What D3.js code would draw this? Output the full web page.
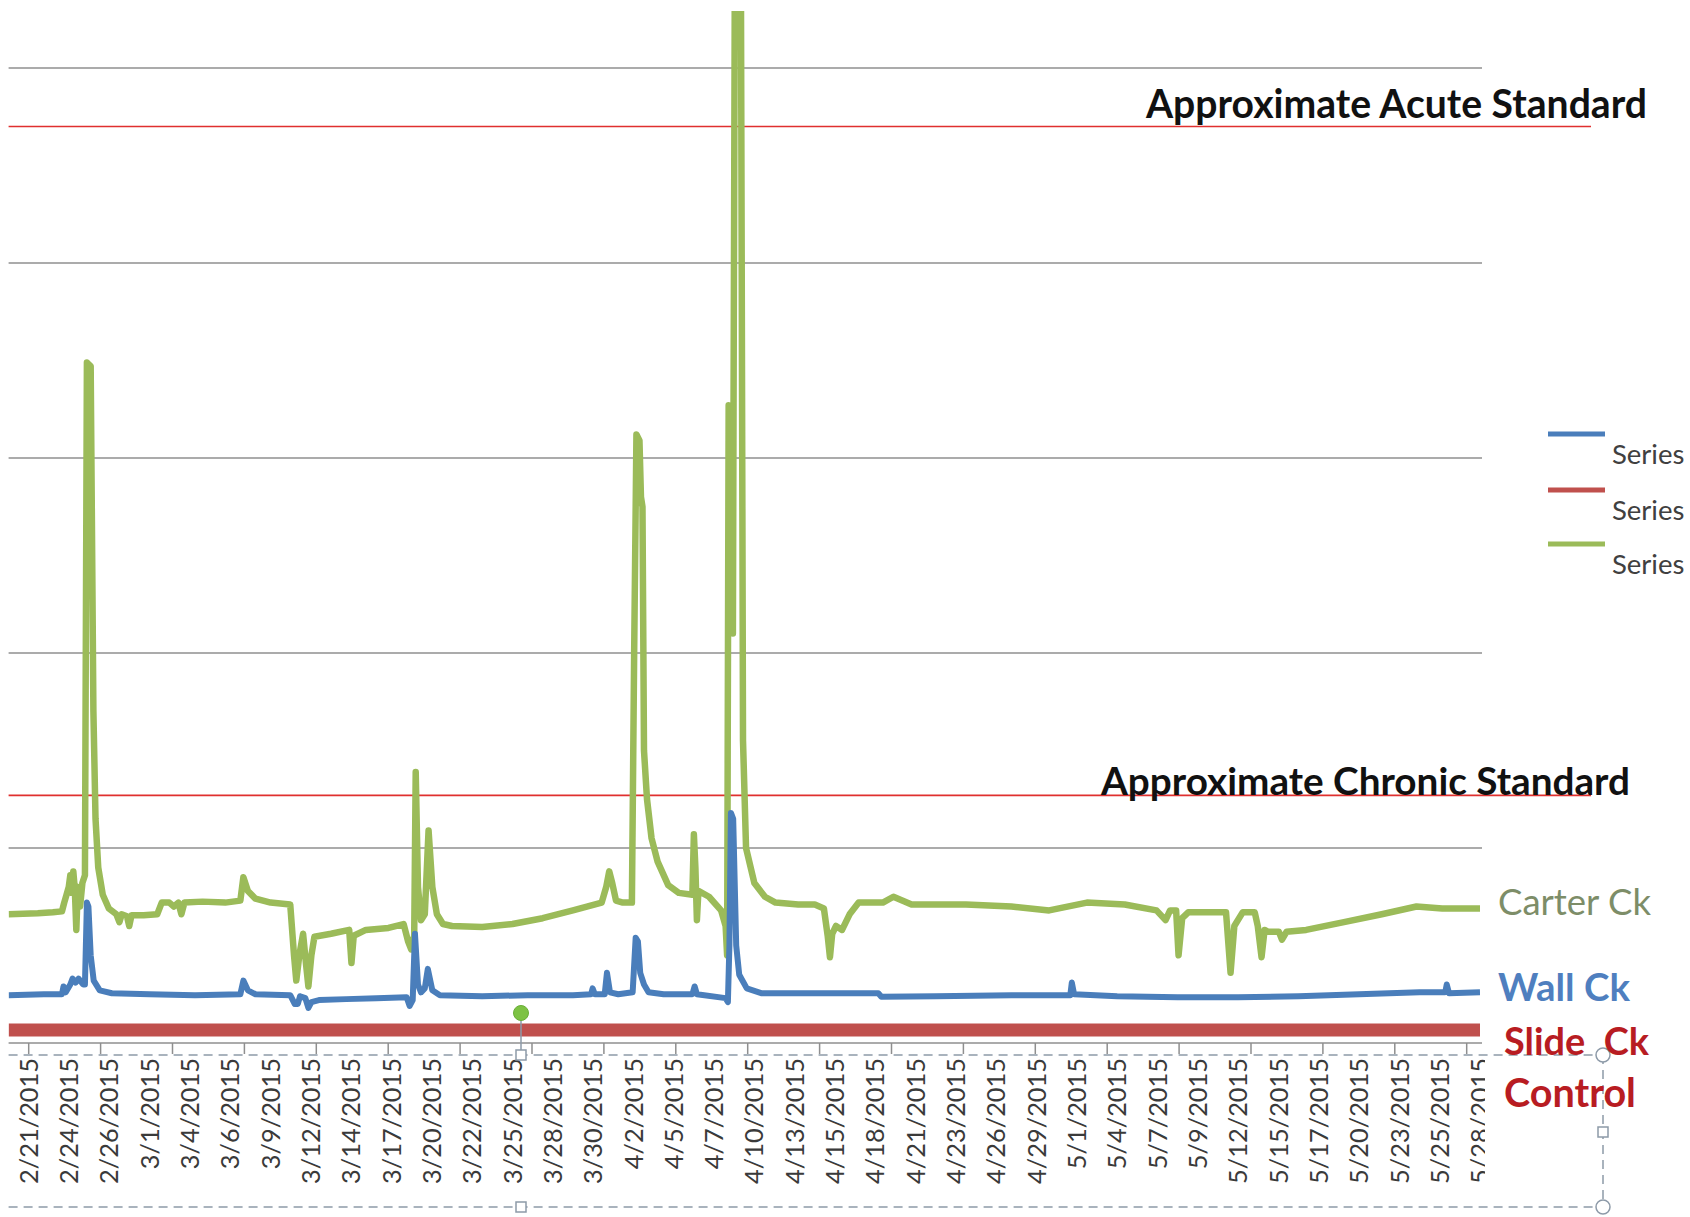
<!DOCTYPE html>
<html>
<head>
<meta charset="utf-8">
<script src="https://cdn.jsdelivr.net/npm/d3@7"></script>
<style>
  html, body { margin: 0; padding: 0; background: #fff; }
  svg { display: block; font-family: Lato, "Open Sans", sans-serif; }
</style>
</head>
<body>
<svg id="chart"></svg>
<script>
// days counted from 2/21/2015 ~10:00, values in gridline units
const carterCk = [
  [-1.33, 0.66], [0.6, 0.665], [1.6, 0.67], [2.2, 0.675], [2.35, 0.72], [2.5, 0.76], [2.65, 0.80],
  [2.75, 0.86], [2.85, 0.77], [2.95, 0.88], [3.05, 0.79], [3.15, 0.58], [3.25, 0.80], [3.4, 0.70],
  [3.55, 0.82], [3.72, 0.86], [3.85, 3.49], [4.1, 3.47], [4.28, 1.70], [4.42, 1.15], [4.6, 0.90],
  [4.9, 0.76], [5.3, 0.69], [5.8, 0.66], [6.0, 0.62], [6.15, 0.66], [6.5, 0.65], [6.65, 0.60],
  [6.8, 0.655], [7.6, 0.655], [8.5, 0.66], [8.8, 0.72], [9.3, 0.72], [9.6, 0.70], [9.9, 0.72],
  [10.1, 0.66], [10.3, 0.72], [11.5, 0.725], [13.0, 0.72], [14.0, 0.73], [14.2, 0.85], [14.5, 0.78],
  [15.0, 0.74], [16.0, 0.72], [17.3, 0.71], [17.55, 0.45], [17.7, 0.32], [17.9, 0.45], [18.15, 0.56],
  [18.35, 0.40], [18.5, 0.29], [18.7, 0.45], [18.9, 0.545], [20.0, 0.56], [21.2, 0.58], [21.35, 0.41],
  [21.5, 0.55], [22.3, 0.58], [23.8, 0.59], [24.8, 0.61], [25.1, 0.52], [25.3, 0.48], [25.5, 0.55],
  [25.6, 1.39], [25.75, 0.80], [25.95, 0.63], [26.2, 0.66], [26.45, 1.09], [26.7, 0.80], [27.0, 0.66],
  [27.4, 0.61], [28.0, 0.60], [30.0, 0.595], [32.0, 0.61], [34.0, 0.64], [36.0, 0.68], [37.9, 0.72],
  [38.2, 0.80], [38.4, 0.88], [38.6, 0.82], [38.85, 0.73], [39.3, 0.72], [39.9, 0.72], [40.05, 2.0],
  [40.2, 3.12], [40.4, 3.09], [40.5, 2.80], [40.6, 2.75], [40.7, 1.50], [40.9, 1.25], [41.2, 1.05],
  [41.6, 0.93], [42.3, 0.81], [43.0, 0.77], [43.9, 0.76], [44.0, 1.07], [44.1, 0.90], [44.2, 0.63],
  [44.3, 0.78], [45.0, 0.75], [45.8, 0.68], [46.1, 0.60], [46.2, 0.45], [46.3, 3.27], [46.45, 3.24],
  [46.58, 2.10], [46.72, 5.8], [47.1, 5.8], [47.25, 1.55], [47.45, 1.0], [48.0, 0.82], [48.7, 0.75],
  [49.4, 0.72], [50.9, 0.71], [52.0, 0.71], [52.6, 0.69], [52.85, 0.55], [53.0, 0.44], [53.15, 0.56],
  [53.4, 0.60], [53.8, 0.58], [54.3, 0.66], [54.9, 0.72], [56.5, 0.72], [57.2, 0.75], [58.4, 0.71],
  [62.0, 0.71], [65.0, 0.70], [67.5, 0.68], [70.0, 0.72], [72.5, 0.71], [74.6, 0.68], [75.2, 0.63],
  [75.5, 0.68], [75.9, 0.68], [76.06, 0.45], [76.3, 0.64], [76.7, 0.67], [79.2, 0.67], [79.5, 0.36],
  [79.75, 0.60], [80.3, 0.67], [81.1, 0.67], [81.3, 0.60], [81.55, 0.44], [81.75, 0.58], [82.0, 0.57],
  [82.7, 0.57], [82.9, 0.53], [83.2, 0.57], [84.5, 0.58], [87.0, 0.62], [89.5, 0.66], [91.8, 0.70],
  [93.5, 0.69], [96.0, 0.69]
];

const wallCk = [
  [-1.33, 0.245], [1.0, 0.25], [2.2, 0.25], [2.3, 0.29], [2.45, 0.26], [2.75, 0.30], [2.9, 0.33],
  [3.1, 0.31], [3.3, 0.33], [3.6, 0.30], [3.72, 0.30], [3.85, 0.72], [3.95, 0.70], [4.1, 0.45],
  [4.3, 0.32], [4.7, 0.27], [5.5, 0.255], [8.0, 0.25], [11.0, 0.245], [14.0, 0.25], [14.2, 0.32],
  [14.5, 0.27], [15.0, 0.25], [17.3, 0.245], [17.6, 0.20], [17.8, 0.20], [17.95, 0.24], [18.3, 0.23],
  [18.5, 0.18], [18.7, 0.21], [19.2, 0.22], [21.0, 0.225], [23.0, 0.23], [25.0, 0.235], [25.2, 0.19],
  [25.4, 0.22], [25.55, 0.56], [25.75, 0.30], [25.95, 0.26], [26.2, 0.28], [26.4, 0.38], [26.7, 0.27],
  [27.2, 0.245], [30.0, 0.24], [33.0, 0.245], [36.0, 0.245], [37.2, 0.25], [37.3, 0.28], [37.45, 0.25],
  [38.1, 0.25], [38.25, 0.36], [38.45, 0.26], [39.0, 0.25], [39.95, 0.26], [40.15, 0.54], [40.3, 0.52],
  [40.45, 0.36], [40.7, 0.30], [41.0, 0.26], [42.0, 0.25], [43.9, 0.25], [44.05, 0.29], [44.2, 0.25],
  [46.1, 0.23], [46.25, 0.21], [46.35, 0.50], [46.45, 1.18], [46.6, 1.15], [46.8, 0.50], [47.0, 0.35],
  [47.5, 0.28], [48.5, 0.255], [52.0, 0.255], [56.2, 0.255], [56.4, 0.237], [60.0, 0.24], [65.0, 0.245],
  [68.9, 0.245], [69.0, 0.31], [69.15, 0.25], [72.0, 0.24], [76.0, 0.235], [80.0, 0.235], [84.0, 0.24],
  [88.0, 0.25], [92.0, 0.26], [93.7, 0.26], [93.8, 0.30], [93.95, 0.255], [96.0, 0.26]
];

const slideCk = [[-1.33, 0.067], [96, 0.067]];

const acuteStd = 4.70;
const chronicStd = 1.27;
const gridValues = [1, 2, 3, 4, 5];

const dateLabels = [
  "2/21/2015", "2/24/2015", "2/26/2015", "3/1/2015", "3/4/2015", "3/6/2015", "3/9/2015",
  "3/12/2015", "3/14/2015", "3/17/2015", "3/20/2015", "3/22/2015", "3/25/2015", "3/28/2015",
  "3/30/2015", "4/2/2015", "4/5/2015", "4/7/2015", "4/10/2015", "4/13/2015", "4/15/2015",
  "4/18/2015", "4/21/2015", "4/23/2015", "4/26/2015", "4/29/2015", "5/1/2015", "5/4/2015",
  "5/7/2015", "5/9/2015", "5/12/2015", "5/15/2015", "5/17/2015", "5/20/2015", "5/23/2015",
  "5/25/2015", "5/28/2015"
];
const labelStep = 96 / 36;   // days between labels
const tickStep = 4.756;      // days between tick marks
// legend text is cut at the picture edge in the original, only "Series" shows
const legendNames = ["Series", "Series", "Series"];

const W = 1690, H = 1217;
const svg = d3.select("#chart").attr("width", W).attr("height", H);

const x = d3.scaleLinear().domain([0, 96]).range([28.7, 1480]);
const y = d3.scaleLinear().domain([0, 5]).range([1043, 68]);
const left = x(-1.33), right = 1482;

svg.append("defs").append("clipPath").attr("id", "plot")
  .append("rect").attr("x", left).attr("y", 11).attr("width", 1480 - left).attr("height", 1050);
svg.select("defs").append("clipPath").attr("id", "labs")
  .append("rect").attr("x", 0).attr("y", 1040).attr("width", 1485).attr("height", 180);

// gridlines
svg.append("g").selectAll("line")
  .data(gridValues)
  .enter().append("line")
  .attr("x1", left).attr("x2", right)
  .attr("y1", d => y(d)).attr("y2", d => y(d))
  .attr("stroke", "#8f8f8f").attr("stroke-width", 1.5);

// standards
svg.append("g").selectAll("line")
  .data([acuteStd, chronicStd])
  .enter().append("line")
  .attr("x1", left).attr("x2", 1591)
  .attr("y1", d => y(d)).attr("y2", d => y(d))
  .attr("stroke", "#e0302f").attr("stroke-width", 1.6);

// x axis
const axisG = svg.append("g").attr("transform", `translate(0,${y(0)})`);
axisG.append("line").attr("x1", left).attr("x2", right)
  .attr("stroke", "#8f8f8f").attr("stroke-width", 1.5);
axisG.selectAll(".tick")
  .data(d3.range(21).map(i => i * tickStep))
  .enter().append("line")
  .attr("x1", d => x(d)).attr("x2", d => x(d))
  .attr("y1", 0).attr("y2", 11)
  .attr("stroke", "#8f8f8f").attr("stroke-width", 1.5);

const line = d3.line().x(d => x(d[0])).y(d => y(d[1]));
const plot = svg.append("g").attr("clip-path", "url(#plot)");

plot.append("path").datum(slideCk).attr("d", line)
  .attr("fill", "none").attr("stroke", "#c0504d").attr("stroke-width", 13);
plot.append("path").datum(carterCk).attr("d", line)
  .attr("fill", "none").attr("stroke", "#9bbb59").attr("stroke-width", 6.5)
  .attr("stroke-linejoin", "round");
plot.append("path").datum(wallCk).attr("d", line)
  .attr("fill", "none").attr("stroke", "#4a7ebb").attr("stroke-width", 6)
  .attr("stroke-linejoin", "round");

// selection box around axis labels
const sel = svg.append("g").attr("stroke", "#8d9aa8").attr("stroke-width", 1.5).attr("fill", "none");
sel.append("line").attr("x1", left).attr("x2", 1603).attr("y1", 1055).attr("y2", 1055)
  .attr("stroke-dasharray", "9,6");
sel.append("line").attr("x1", left).attr("x2", 1603).attr("y1", 1207).attr("y2", 1207)
  .attr("stroke-dasharray", "9,6");
sel.append("line").attr("x1", 1603).attr("x2", 1603).attr("y1", 1055).attr("y2", 1207)
  .attr("stroke-dasharray", "9,6");
sel.append("line").attr("x1", 521).attr("x2", 521).attr("y1", 1013).attr("y2", 1050);

// date labels
const labG = svg.append("g").attr("clip-path", "url(#labs)");
const labs = labG.selectAll("text")
  .data(dateLabels)
  .enter().append("text")
  .attr("transform", (d, i) => `translate(${x(i * labelStep)},1058) rotate(-90)`)
  .attr("text-anchor", "end")
  .attr("dy", "0.36em")
  .attr("font-size", 26)
  .attr("fill", "#3a3a3a")
  .text(d => d);
const l0 = labs.node().getComputedTextLength();
labs.attr("font-size", 26 * 126 / l0);

// handles
const hnd = svg.append("g").attr("stroke", "#8d9aa8").attr("stroke-width", 1.5).attr("fill", "#fff");
hnd.selectAll("rect")
  .data([[521, 1055], [521, 1207], [1603, 1132]])
  .enter().append("rect")
  .attr("x", d => d[0] - 5).attr("y", d => d[1] - 5).attr("width", 10).attr("height", 10);
hnd.selectAll("circle")
  .data([[1603, 1055], [1603, 1207]])
  .enter().append("circle")
  .attr("cx", d => d[0]).attr("cy", d => d[1]).attr("r", 7);
svg.append("circle").attr("cx", 521).attr("cy", 1013).attr("r", 7.5)
  .attr("fill", "#7dc243").attr("stroke", "#6aae38");

// legend
const leg = svg.append("g");
const legColors = ["#4a7ebb", "#c0504d", "#9bbb59"];
const legY = [434, 490, 544];
legendNames.forEach((name, i) => {
  leg.append("line").attr("x1", 1548).attr("x2", 1605)
    .attr("y1", legY[i]).attr("y2", legY[i])
    .attr("stroke", legColors[i]).attr("stroke-width", 5);
  leg.append("text").attr("x", 1612).attr("y", legY[i] + 30)
    .attr("font-size", 27.5).attr("fill", "#404040").text(name);
});

// annotations
function fitText(t, w) {
  const len = t.node().getComputedTextLength();
  t.attr("font-size", parseFloat(t.attr("font-size")) * w / len);
}
const notes = [
  { text: "Approximate Acute Standard", x: 1146, y: 118, w: 501, color: "#111", weight: 700 },
  { text: "Approximate Chronic Standard", x: 1101, y: 795, w: 529, color: "#111", weight: 700 },
  { text: "Carter Ck", x: 1498, y: 915, w: 153, color: "#7d8d68", weight: 400 },
  { text: "Wall Ck", x: 1498, y: 1001, w: 132, color: "#4f7fbf", weight: 700 },
  { text: "Slide  Ck", x: 1504, y: 1055, w: 145, color: "#b81c22", weight: 700 },
  { text: "Control", x: 1504, y: 1107, w: 132, color: "#b81c22", weight: 700 }
];
notes.forEach(n => {
  const t = svg.append("text").attr("x", n.x).attr("y", n.y)
    .attr("font-size", 34).attr("font-weight", n.weight)
    .attr("fill", n.color).attr("xml:space", "preserve")
    .style("white-space", "pre").text(n.text);
  fitText(t, n.w);
});
</script>
</body>
</html>
